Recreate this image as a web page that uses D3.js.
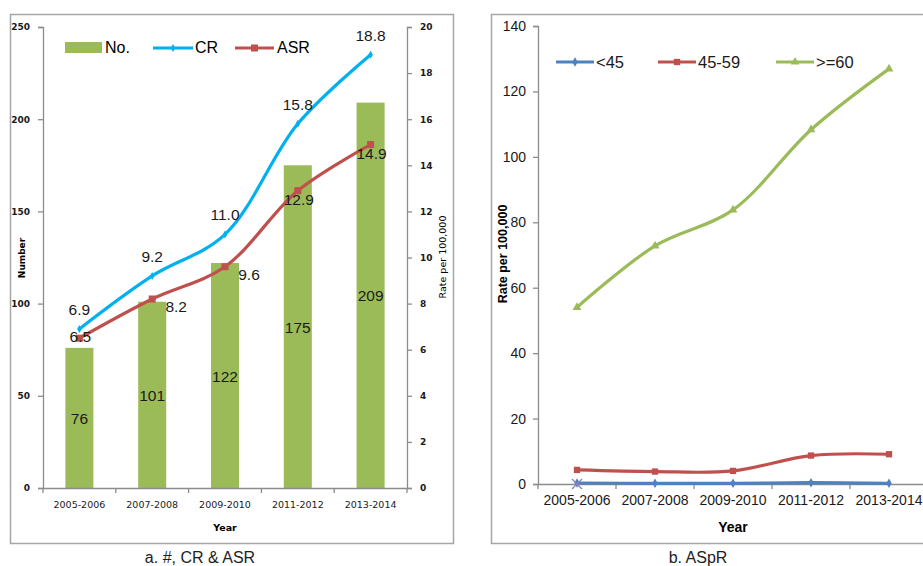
<!DOCTYPE html>
<html><head><meta charset="utf-8">
<script src="https://cdn.jsdelivr.net/npm/d3@7/dist/d3.min.js"></script>
<style>
html,body{margin:0;padding:0;background:#fff;}
svg{display:block;}
</style></head>
<body>
<svg id="c" width="923" height="566"></svg>
<script>
// ---------- data ----------
const categories = ["2005-2006","2007-2008","2009-2010","2011-2012","2013-2014"];
const numberValues = [76,101,122,175,209];
const crValues = [6.9,9.2,11.0,15.8,18.8];
const asrValues = [6.5,8.2,9.6,12.9,14.9];
const numberTicks = [0,50,100,150,200,250];
const rateTicksA = [0,2,4,6,8,10,12,14,16,18,20];
const ageUnder45 = [0.3,0.2,0.2,0.4,0.2];
const age45to59 = [4.3,3.8,4.0,8.7,9.1];
const age60plus = [54.0,72.8,83.8,108.3,126.9];
const rateTicksB = [0,20,40,60,80,100,120,140];
const asrLabelPlacement = ["center","right","right","below","below"];

const svg = d3.select("#c");
const axisColor = "#8c8c8c";
const fmt1 = d3.format(".1f");
const curve = d3.curveCatmullRom.alpha(0.5);

// ---------- panel frames ----------
svg.append("rect").attr("x",10.5).attr("y",14.5).attr("width",443).attr("height",529)
  .attr("fill","none").attr("stroke","#a6a6a6").attr("stroke-width",1.5);
svg.append("rect").attr("x",491.5).attr("y",14.5).attr("width",460).attr("height",529)
  .attr("fill","none").attr("stroke","#a6a6a6").attr("stroke-width",1.5);

// ================= Panel a =================
const ga = svg.append("g");
const xA = d3.scaleBand().domain(categories).range([43,407]).padding(0);
const yN = d3.scaleLinear().domain([0,250]).range([488,27]);
const yR = d3.scaleLinear().domain([0,20]).range([488,27]);
const barW = xA.bandwidth()*0.385;
const cx = c => xA(c) + xA.bandwidth()/2;

function styleAxis(g, fs, family, weight){
  g.select(".domain").attr("stroke",axisColor).attr("stroke-width",1.3);
  g.selectAll(".tick line").attr("stroke",axisColor).attr("stroke-width",1.3);
  g.selectAll(".tick text").attr("font-family",family).attr("font-size",fs)
    .attr("font-weight",weight).attr("fill","#1a1a1a");
}

// bars
ga.selectAll("rect.bar").data(numberValues).join("rect")
  .attr("x",(d,i)=>cx(categories[i])-barW/2).attr("width",barW)
  .attr("y",d=>yN(d)).attr("height",d=>yN(0)-yN(d)).attr("fill","#9bbb59");

// axes
const axL = ga.append("g").attr("transform","translate(43,0)")
  .call(d3.axisLeft(yN).tickValues(numberTicks).tickSize(5).tickPadding(8));
styleAxis(axL,"9px","DejaVu Sans","bold");
const axR = ga.append("g").attr("transform","translate(407,0)")
  .call(d3.axisRight(yR).tickValues(rateTicksA).tickSize(5).tickPadding(8));
styleAxis(axR,"9px","DejaVu Sans","bold");
const axB = ga.append("g").attr("transform","translate(0,488)")
  .call(d3.axisBottom(xA).tickSize(0).tickPadding(13));
styleAxis(axB,"9.5px","DejaVu Sans","normal");
ga.selectAll("line.bt").data(d3.range(categories.length+1)).join("line")
  .attr("x1",i=>43+i*xA.step()).attr("x2",i=>43+i*xA.step())
  .attr("y1",488).attr("y2",493).attr("stroke",axisColor).attr("stroke-width",1.3);

// lines
const lineA = yS => d3.line().x((d,i)=>cx(categories[i])).y(d=>yS(d)).curve(curve);
ga.append("path").datum(asrValues).attr("d",lineA(yR)).attr("fill","none")
  .attr("stroke","#c0504d").attr("stroke-width",3.2);
ga.append("path").datum(crValues).attr("d",lineA(yR)).attr("fill","none")
  .attr("stroke","#00b0f0").attr("stroke-width",3.2);
ga.selectAll("rect.asrm").data(asrValues).join("rect")
  .attr("x",(d,i)=>cx(categories[i])-3.5).attr("y",d=>yR(d)-3.5)
  .attr("width",7).attr("height",7).attr("fill","#c0504d");
ga.selectAll("path.crm").data(crValues).join("path")
  .attr("transform",(d,i)=>`translate(${cx(categories[i])},${yR(d)})`)
  .attr("d",d3.symbol(d3.symbolDiamond,18)).attr("fill","#00b0f0");

// labels
const lblFont = "Liberation Sans";
ga.selectAll("text.nl").data(numberValues).join("text")
  .attr("x",(d,i)=>cx(categories[i])).attr("y",d=>(yN(d)+yN(0))/2+6)
  .attr("text-anchor","middle").attr("font-family",lblFont).attr("font-size","15.5px")
  .attr("fill","#1a1a1a").text(d=>d);
ga.selectAll("text.crl").data(crValues).join("text")
  .attr("x",(d,i)=>cx(categories[i])).attr("y",d=>yR(d)-14)
  .attr("text-anchor","middle").attr("font-family",lblFont).attr("font-size","15.5px")
  .attr("fill","#1a1a1a").text(d=>fmt1(d));
ga.selectAll("text.asrl").data(asrValues).join("text")
  .attr("x",(d,i)=>cx(categories[i]) + (asrLabelPlacement[i]==="right"?24:1))
  .attr("y",(d,i)=>yR(d) + (asrLabelPlacement[i]==="below"?14:(asrLabelPlacement[i]==="right"?13:4)))
  .attr("text-anchor","middle").attr("font-family",lblFont).attr("font-size","15.5px")
  .attr("fill","#1a1a1a").text(d=>fmt1(d));

// legend a
ga.append("rect").attr("x",65).attr("y",42).attr("width",37).attr("height",11).attr("fill","#9bbb59");
ga.append("text").attr("x",105).attr("y",53).attr("font-family",lblFont).attr("font-size","16px").text("No.");
ga.append("line").attr("x1",153).attr("x2",193).attr("y1",48).attr("y2",48).attr("stroke","#00b0f0").attr("stroke-width",3.2);
ga.append("path").attr("transform","translate(173,48)").attr("d",d3.symbol(d3.symbolDiamond,18)).attr("fill","#00b0f0");
ga.append("text").attr("x",195).attr("y",53).attr("font-family",lblFont).attr("font-size","16px").text("CR");
ga.append("line").attr("x1",235).attr("x2",274).attr("y1",48).attr("y2",48).attr("stroke","#c0504d").attr("stroke-width",3.2);
ga.append("rect").attr("x",251).attr("y",44.5).attr("width",7).attr("height",7).attr("fill","#c0504d");
ga.append("text").attr("x",277).attr("y",53).attr("font-family",lblFont).attr("font-size","16px").text("ASR");

// titles a
ga.append("text").attr("transform","translate(25,258) rotate(-90)").attr("text-anchor","middle")
  .attr("font-family","DejaVu Sans").attr("font-weight","bold").attr("font-size","9px").text("Number");
ga.append("text").attr("transform","translate(446,257) rotate(-90)").attr("text-anchor","middle")
  .attr("font-family","DejaVu Sans").attr("font-size","9.5px").text("Rate per 100,000");
ga.append("text").attr("x",225).attr("y",531).attr("text-anchor","middle")
  .attr("font-family","DejaVu Sans").attr("font-weight","bold").attr("font-size","9.5px").text("Year");
ga.append("text").attr("x",200).attr("y",563).attr("text-anchor","middle")
  .attr("font-family","Liberation Sans").attr("font-size","16px").attr("fill","#222").text("a. #, CR & ASR");

// ================= Panel b =================
const gb = svg.append("g");
const xB = d3.scaleBand().domain(categories).range([538,928]).padding(0);
const yB = d3.scaleLinear().domain([0,140]).range([484,26]);
const cxB = c => xB(c) + xB.bandwidth()/2;

const bL = gb.append("g").attr("transform","translate(538,0)")
  .call(d3.axisLeft(yB).tickValues(rateTicksB).tickSize(5).tickPadding(7));
styleAxis(bL,"14px","Liberation Sans","normal");
const bB = gb.append("g").attr("transform","translate(0,484)")
  .call(d3.axisBottom(xB).tickSize(0).tickPadding(11));
styleAxis(bB,"14px","Liberation Sans","normal");
gb.selectAll("line.bt").data(d3.range(categories.length+1)).join("line")
  .attr("x1",i=>538+i*xB.step()).attr("x2",i=>538+i*xB.step())
  .attr("y1",484).attr("y2",489).attr("stroke",axisColor).attr("stroke-width",1.3);

const lineB = d3.line().x((d,i)=>cxB(categories[i])).y(d=>yB(d)).curve(curve);
const seriesB = [
  {name:"<45", values:ageUnder45, color:"#4f81bd", sym:d3.symbolDiamond, size:26},
  {name:"45-59", values:age45to59, color:"#c0504d", sym:d3.symbolSquare, size:40},
  {name:">=60", values:age60plus, color:"#9bbb59", sym:d3.symbolTriangle, size:34}
];
seriesB.slice().reverse().forEach(s=>{
  gb.append("path").datum(s.values).attr("d",lineB).attr("fill","none")
    .attr("stroke",s.color).attr("stroke-width",3.2);
  gb.selectAll(null).data(s.values).join("path")
    .attr("transform",(d,i)=>`translate(${cxB(categories[i])},${yB(d)})`)
    .attr("d",d3.symbol(s.sym,s.size)).attr("fill",s.color);
});
// stray cross marker at first point
gb.append("path")
  .attr("transform",`translate(${cxB(categories[0])},${yB(0)})`)
  .attr("d","M-5,-5L5,5M-5,5L5,-5").attr("stroke","#8a86c0").attr("stroke-width",1.4).attr("fill","none");

// legend b
const legX = [556,658,776];
seriesB.forEach((s,i)=>{
  const x0 = legX[i];
  gb.append("line").attr("x1",x0).attr("x2",x0+38).attr("y1",62).attr("y2",62)
    .attr("stroke",s.color).attr("stroke-width",3.2);
  gb.append("path").attr("transform",`translate(${x0+19},62)`)
    .attr("d",d3.symbol(s.sym,s.size)).attr("fill",s.color);
  gb.append("text").attr("x",x0+40).attr("y",67.5).attr("font-family","Liberation Sans")
    .attr("font-size","16.5px").attr("fill","#1a1a1a").text(s.name);
});

gb.append("text").attr("transform","translate(507,254) rotate(-90)").attr("text-anchor","middle")
  .attr("font-family","Liberation Sans").attr("font-weight","bold").attr("font-size","12.5px").text("Rate per 100,000");
gb.append("text").attr("x",733).attr("y",532).attr("text-anchor","middle")
  .attr("font-family","Liberation Sans").attr("font-weight","bold").attr("font-size","14px").text("Year");
gb.append("text").attr("x",698).attr("y",563).attr("text-anchor","middle")
  .attr("font-family","Liberation Sans").attr("font-size","16px").attr("fill","#222").text("b. ASpR");
</script>
</body></html>
